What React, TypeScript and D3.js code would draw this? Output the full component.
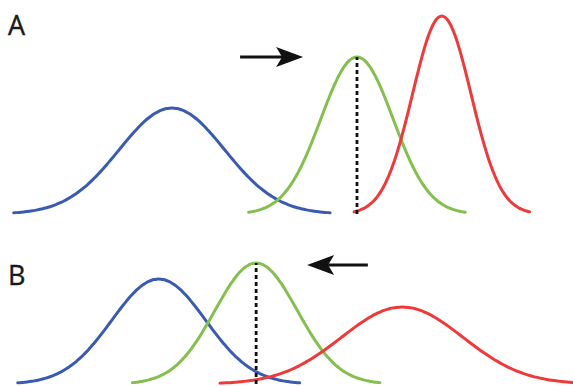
import React from "react";
import * as d3 from "d3";

const W = 573;
const H = 386;

// Panel labels
const panelLabels = ["A", "B"];
// Series names and colours (blue, green, red)
const seriesNames = ["blue", "green", "red"];
const seriesColors = ["#3a5bb0", "#85bf4f", "#ee3a3a"];

// Distribution parameters in x units (domain 0..10) and relative peak heights (0..1)
const meansA = [3.0, 6.23, 7.71];
const sdsA = [0.92, 0.63, 0.51];
const peaksA = [0.53, 0.785, 0.99];

const meansB = [2.77, 4.47, 7.02];
const sdsB = [0.82, 0.72, 1.06];
const peaksB = [0.525, 0.605, 0.385];

// Arrows: [from, to] in x units, height in y units
const arrowA = [4.19, 5.29];
const arrowB = [6.42, 5.36];
const arrowHeights = [0.785, 0.595];

// Dashed marker index (which series' mean)
const markerSeries = 1;

const baselines = [214, 384];

function gauss(x: number, m: number, s: number, p: number) {
  return p * Math.exp(-0.5 * ((x - m) / s) ** 2);
}

function Panel({ idx, means, sds, peaks, arrow }: any) {
  const x = d3.scaleLinear().domain([0, 10]).range([0, W]);
  const y = d3.scaleLinear().domain([0, 1]).range([baselines[idx], baselines[idx] - 200]);
  const line = d3
    .line<number[]>()
    .x((d) => x(d[0]))
    .y((d) => y(d[1]))
    .curve(d3.curveBasis);

  const curves = means.map((m: number, i: number) => {
    const s = sds[i];
    const pts = d3.range(0, 121).map((k) => {
      const xv = m - 3 * s + (6 * s * k) / 120;
      return [xv, gauss(xv, m, s, peaks[i])];
    });
    return (
      <path
        key={seriesNames[i]}
        d={line(pts) || ""}
        fill="none"
        stroke={seriesColors[i]}
        strokeWidth={3}
        strokeLinecap="round"
      />
    );
  });

  const mm = means[markerSeries];
  const ay = y(arrowHeights[idx]);
  const x0 = x(arrow[0]);
  const x1 = x(arrow[1]);
  const dir = Math.sign(x1 - x0);
  const headLen = 27;
  const headHalf = 10;
  const notch = 6;
  const headPath = `M${x1},${ay} L${x1 - dir * headLen},${ay - headHalf} L${x1 - dir * (headLen - notch)},${ay} L${x1 - dir * headLen},${ay + headHalf} Z`;

  return (
    <g>
      <text
        x={8}
        y={idx === 0 ? 35 : 285}
        fontFamily="'Open Sans', 'Liberation Sans', sans-serif"
        fontSize={27}
        fill="#1a1a1a"
        stroke="#1a1a1a"
        strokeWidth={0.4}
      >
        {panelLabels[idx]}
      </text>
      {curves}
      <line
        x1={x(mm)}
        x2={x(mm)}
        y1={y(0)}
        y2={y(peaks[markerSeries])}
        stroke="#111"
        strokeWidth={2.8}
        strokeDasharray="4,3"
      />
      <line
        x1={x0}
        x2={x1 - dir * (headLen - notch)}
        y1={ay}
        y2={ay}
        stroke="#111"
        strokeWidth={3.2}
      />
      <path d={headPath} fill="#111" />
    </g>
  );
}

export default function App() {
  return (
    <svg width={W} height={H} style={{ display: "block", position: "absolute", left: 0, top: 0, background: "#fff" }}>
      <rect width={W} height={H} fill="#fff" />
      <Panel idx={0} means={meansA} sds={sdsA} peaks={peaksA} arrow={arrowA} />
      <Panel idx={1} means={meansB} sds={sdsB} peaks={peaksB} arrow={arrowB} />
    </svg>
  );
}
